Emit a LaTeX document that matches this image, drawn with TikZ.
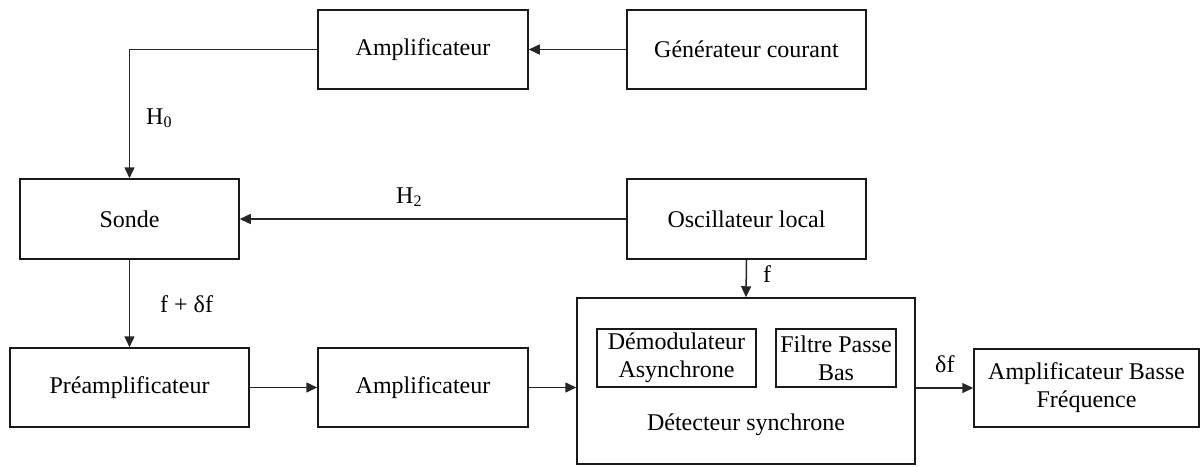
\documentclass[tikz,border=0pt]{standalone}
\usepackage{fontspec}
\setmainfont{Liberation Serif}
\usetikzlibrary{arrows.meta}
\tikzset{
  blockbox/.style={draw=black!90, line width=1.5pt, inner sep=0pt, align=center,
    font=\fontsize{24}{28}\selectfont},
  flow/.style={draw=black!85, line width=1.5pt, -{Triangle[length=11pt,width=10pt]}},
  sig/.style={inner sep=0pt, anchor=base west, font=\fontsize{24}{28}\selectfont}
}
\newcommand{\subidx}[1]{\raisebox{-0.35ex}{\fontsize{16}{16}\selectfont #1}}
\begin{document}
\begin{tikzpicture}[x=1pt,y=-1pt]
  \useasboundingbox (0,0) rectangle (1201,466);

  % top row
  \node[blockbox, minimum width=210pt, minimum height=79pt] (amp1) at (423,49.5) {Amplificateur};
  \node[blockbox, minimum width=239pt, minimum height=79pt] (gen) at (746.5,49.5) {Générateur courant};

  % middle row
  \node[blockbox, minimum width=219pt, minimum height=80pt] (sonde) at (129.5,219) {Sonde};
  \node[blockbox, minimum width=239pt, minimum height=80pt] (osc) at (746.5,219) {Oscillateur local};

  % bottom row
  \node[blockbox, minimum width=239pt, minimum height=79pt] (pre) at (129.5,387.5) {Préamplificateur};
  \node[blockbox, minimum width=210pt, minimum height=79pt] (amp2) at (423,387.5) {Amplificateur};
  \node[blockbox, minimum width=338pt, minimum height=166pt] (det) at (746,381) {};
  \node[blockbox, minimum width=159pt, minimum height=58pt] (dem) at (676.5,358) {Démodulateur\\Asynchrone};
  \node[blockbox, minimum width=120pt, minimum height=58pt] (fil) at (836,358) {Filtre Passe\\Bas};
  \node[inner sep=0pt, font=\fontsize{24}{28}\selectfont] (detlabel) at (746,425) {Détecteur synchrone};
  \node[blockbox, minimum width=225pt, minimum height=78pt] (abf) at (1086.5,388) {Amplificateur Basse\\Fréquence};

  % connections
  \draw[flow] (gen.west) -- (amp1.east);
  \draw[flow] (amp1.west) -| (sonde.north);
  \draw[flow] (osc.west) -- (sonde.east);
  \draw[flow] (sonde.south) -- (pre.north);
  \draw[flow] (osc.south) -- (det.north);
  \draw[flow] (pre.east) -- (amp2.west);
  \draw[flow] (amp2.east) -- (amp2.east -| det.west);
  \draw[flow] (abf.west -| det.east) -- (abf.west);

  % signal labels
  \node[sig] (lh0) at (146,124) {H\subidx{0}};
  \node[sig] (lh2) at (396,203) {H\subidx{2}};
  \node[sig] (lfdf) at (160,312) {f + δf};
  \node[sig] (lf) at (763,282) {f};
  \node[sig] (ldf) at (935,372) {δf};
\end{tikzpicture}
\end{document}
